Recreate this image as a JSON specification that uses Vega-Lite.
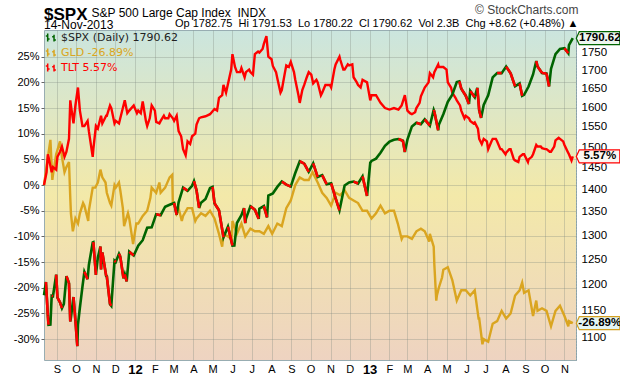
{
"$schema": "https://vega.github.io/schema/vega-lite/v6.json",
"width": 532, "height": 330,
"autosize": "none",
"padding": {"left": 44, "top": 30, "right": 44, "bottom": 16},
"background": "white",
"config": {
 "font": "Liberation Sans",
 "view": {"stroke": "#98adb2", "strokeWidth": 1, "fill": {"gradient": "linear", "x1": 0, "y1": 0, "x2": 0, "y2": 1, "stops": [{"offset": 0, "color": "#cbe5de"}, {"offset": 0.5, "color": "#f3e9a9"}, {"offset": 1, "color": "#eed3c1"}]}},
 "axis": {"labelFont": "Liberation Sans", "labelColor": "#000000", "gridColor": "#7f8a80", "gridOpacity": 0.32, "gridWidth": 1, "titleFont": "Liberation Sans", "titleColor": "#000000", "titleFontWeight": "normal"},
 "legend": {"orient": "top-left", "offset": 2, "padding": 0, "labelFont": "DejaVu Sans", "labelFontSize": 11, "rowPadding": 0, "labelOffset": 4, "symbolSize": 40, "symbolStrokeWidth": 1.5, "symbolType": "M-1.2,-1.3V1.3M-1.2,-0.5H-1.8M-1.2,0.5H-0.6M0.8,-0.9V1.3M0.8,-0.2H0.2M0.8,0.8H1.4", "labelLimit": 300}
},
"title": {"text": "$SPX", "subtitle": "14-Nov-2013", "anchor": "start", "frame": "group", "font": "Liberation Sans", "fontSize": 17, "fontWeight": "bold", "color": "#000000", "subtitleFont": "Liberation Sans", "subtitleFontSize": 12, "subtitleColor": "#000000", "offset": -1, "subtitlePadding": -4, "dy": 28},
"datasets": {
"spx": [
{"d":"2011-08-12","v":1178.8},{"d":"2011-08-15","v":1204.5},{"d":"2011-08-18","v":1140.6},{"d":"2011-08-19","v":1123.5},{"d":"2011-08-22","v":1123.8},{"d":"2011-08-24","v":1177.6},{"d":"2011-08-26","v":1176.8},{"d":"2011-08-31","v":1218.9},{"d":"2011-09-02","v":1174.0},{"d":"2011-09-06","v":1165.2},{"d":"2011-09-09","v":1154.2},{"d":"2011-09-12","v":1162.3},{"d":"2011-09-16","v":1216.0},{"d":"2011-09-20","v":1202.1},{"d":"2011-09-22","v":1129.6},{"d":"2011-09-23","v":1136.4},{"d":"2011-09-27","v":1175.4},{"d":"2011-09-30","v":1131.4},{"d":"2011-10-03","v":1085.0},{"d":"2011-10-04","v":1123.9},{"d":"2011-10-07","v":1155.5},{"d":"2011-10-11","v":1195.5},{"d":"2011-10-14","v":1224.6},{"d":"2011-10-19","v":1209.9},{"d":"2011-10-21","v":1238.3},{"d":"2011-10-27","v":1284.6},{"d":"2011-10-28","v":1285.1},{"d":"2011-11-01","v":1218.3},{"d":"2011-11-04","v":1253.2},{"d":"2011-11-08","v":1275.9},{"d":"2011-11-09","v":1229.1},{"d":"2011-11-11","v":1263.9},{"d":"2011-11-17","v":1216.1},{"d":"2011-11-18","v":1215.7},{"d":"2011-11-23","v":1161.8},{"d":"2011-11-25","v":1158.7},{"d":"2011-11-30","v":1246.9},{"d":"2011-12-02","v":1244.3},{"d":"2011-12-07","v":1261.0},{"d":"2011-12-09","v":1255.2},{"d":"2011-12-14","v":1211.8},{"d":"2011-12-16","v":1219.7},{"d":"2011-12-19","v":1205.4},{"d":"2011-12-23","v":1265.3},{"d":"2011-12-30","v":1257.6},
{"d":"2012-01-06","v":1277.8},{"d":"2012-01-13","v":1289.1},{"d":"2012-01-20","v":1315.4},{"d":"2012-01-27","v":1316.3},{"d":"2012-02-03","v":1344.9},{"d":"2012-02-10","v":1342.6},{"d":"2012-02-17","v":1361.2},{"d":"2012-02-24","v":1365.7},{"d":"2012-03-02","v":1369.6},{"d":"2012-03-06","v":1343.4},{"d":"2012-03-09","v":1370.9},{"d":"2012-03-16","v":1404.2},{"d":"2012-03-23","v":1397.1},{"d":"2012-03-30","v":1408.5},{"d":"2012-04-02","v":1419.0},{"d":"2012-04-06","v":1398.1},{"d":"2012-04-10","v":1358.6},{"d":"2012-04-13","v":1370.3},{"d":"2012-04-20","v":1378.5},{"d":"2012-04-27","v":1403.4},{"d":"2012-05-01","v":1405.8},{"d":"2012-05-04","v":1369.1},{"d":"2012-05-11","v":1353.4},{"d":"2012-05-18","v":1295.2},{"d":"2012-05-25","v":1317.8},{"d":"2012-06-01","v":1278.0},{"d":"2012-06-04","v":1278.2},{"d":"2012-06-08","v":1325.7},{"d":"2012-06-15","v":1342.8},{"d":"2012-06-19","v":1358.0},{"d":"2012-06-21","v":1325.5},{"d":"2012-06-22","v":1335.0},{"d":"2012-06-29","v":1362.2},{"d":"2012-07-06","v":1354.7},{"d":"2012-07-12","v":1334.8},{"d":"2012-07-13","v":1356.8},{"d":"2012-07-20","v":1362.7},{"d":"2012-07-25","v":1337.9},{"d":"2012-07-27","v":1386.0},{"d":"2012-08-03","v":1391.0},{"d":"2012-08-10","v":1405.9},{"d":"2012-08-17","v":1418.2},{"d":"2012-08-24","v":1411.1},{"d":"2012-08-31","v":1406.6},{"d":"2012-09-07","v":1437.9},{"d":"2012-09-14","v":1465.8},{"d":"2012-09-21","v":1460.2},{"d":"2012-09-28","v":1440.7},{"d":"2012-10-05","v":1460.9},{"d":"2012-10-12","v":1428.6},{"d":"2012-10-19","v":1433.2},{"d":"2012-10-26","v":1411.9},{"d":"2012-11-02","v":1414.2},{"d":"2012-11-09","v":1379.9},{"d":"2012-11-15","v":1353.3},{"d":"2012-11-16","v":1359.9},{"d":"2012-11-23","v":1409.2},{"d":"2012-11-30","v":1416.2},{"d":"2012-12-07","v":1418.1},{"d":"2012-12-14","v":1413.6},{"d":"2012-12-21","v":1430.2},{"d":"2012-12-28","v":1385.6},
{"d":"2013-01-02","v":1462.4},{"d":"2013-01-04","v":1466.5},{"d":"2013-01-11","v":1472.1},{"d":"2013-01-18","v":1486.0},{"d":"2013-01-25","v":1503.0},{"d":"2013-02-01","v":1513.2},{"d":"2013-02-08","v":1517.9},{"d":"2013-02-15","v":1519.8},{"d":"2013-02-22","v":1515.6},{"d":"2013-02-25","v":1487.9},{"d":"2013-03-01","v":1518.2},{"d":"2013-03-08","v":1551.2},{"d":"2013-03-15","v":1560.7},{"d":"2013-03-22","v":1556.9},{"d":"2013-03-28","v":1569.2},{"d":"2013-04-05","v":1553.3},{"d":"2013-04-11","v":1593.4},{"d":"2013-04-12","v":1588.9},{"d":"2013-04-18","v":1541.6},{"d":"2013-04-19","v":1555.3},{"d":"2013-04-26","v":1582.2},{"d":"2013-05-03","v":1614.4},{"d":"2013-05-10","v":1633.7},{"d":"2013-05-17","v":1667.5},{"d":"2013-05-21","v":1669.2},{"d":"2013-05-24","v":1649.6},{"d":"2013-05-31","v":1630.7},{"d":"2013-06-05","v":1608.9},{"d":"2013-06-07","v":1643.4},{"d":"2013-06-14","v":1626.7},{"d":"2013-06-18","v":1651.8},{"d":"2013-06-21","v":1592.4},{"d":"2013-06-24","v":1573.1},{"d":"2013-06-28","v":1606.3},{"d":"2013-07-05","v":1631.9},{"d":"2013-07-12","v":1680.2},{"d":"2013-07-19","v":1692.1},{"d":"2013-07-26","v":1691.7},{"d":"2013-08-02","v":1709.7},{"d":"2013-08-09","v":1691.4},{"d":"2013-08-16","v":1655.8},{"d":"2013-08-23","v":1663.5},{"d":"2013-08-27","v":1630.5},{"d":"2013-08-30","v":1633.0},{"d":"2013-09-06","v":1655.2},{"d":"2013-09-13","v":1688.0},{"d":"2013-09-18","v":1725.5},{"d":"2013-09-20","v":1709.9},{"d":"2013-09-27","v":1691.8},{"d":"2013-10-04","v":1690.5},{"d":"2013-10-08","v":1655.5},{"d":"2013-10-11","v":1703.2},{"d":"2013-10-18","v":1744.5},{"d":"2013-10-25","v":1759.8},{"d":"2013-11-01","v":1761.6},{"d":"2013-11-07","v":1747.2},{"d":"2013-11-08","v":1770.6},{"d":"2013-11-14","v":1790.62}
],
"gld": [
{"d":"2011-08-12","v":0.0},{"d":"2011-08-17","v":4.5},{"d":"2011-08-22","v":8.8},{"d":"2011-08-25","v":1.0},{"d":"2011-08-26","v":2.0},{"d":"2011-08-31","v":6.0},{"d":"2011-09-06","v":8.5},{"d":"2011-09-09","v":5.5},{"d":"2011-09-13","v":2.5},{"d":"2011-09-16","v":3.5},{"d":"2011-09-20","v":4.5},{"d":"2011-09-22","v":-2.5},{"d":"2011-09-23","v":-5.5},{"d":"2011-09-26","v":-9.0},{"d":"2011-09-30","v":-6.5},{"d":"2011-10-04","v":-7.5},{"d":"2011-10-07","v":-5.5},{"d":"2011-10-12","v":-3.5},{"d":"2011-10-14","v":-4.0},{"d":"2011-10-20","v":-7.0},{"d":"2011-10-21","v":-5.0},{"d":"2011-10-27","v":-0.5},{"d":"2011-10-31","v":-0.5},{"d":"2011-11-04","v":0.5},{"d":"2011-11-08","v":3.0},{"d":"2011-11-11","v":1.5},{"d":"2011-11-16","v":0.5},{"d":"2011-11-18","v":-1.5},{"d":"2011-11-23","v":-3.5},{"d":"2011-11-25","v":-4.0},{"d":"2011-11-30","v":0.0},{"d":"2011-12-02","v":-0.5},{"d":"2011-12-07","v":0.5},{"d":"2011-12-09","v":-1.0},{"d":"2011-12-13","v":-4.5},{"d":"2011-12-15","v":-8.0},{"d":"2011-12-16","v":-7.5},{"d":"2011-12-21","v":-5.5},{"d":"2011-12-23","v":-6.5},{"d":"2011-12-29","v":-11.5},
{"d":"2012-01-03","v":-7.5},{"d":"2012-01-06","v":-7.5},{"d":"2012-01-13","v":-6.0},{"d":"2012-01-20","v":-5.0},{"d":"2012-01-25","v":-2.5},{"d":"2012-01-27","v":-0.5},{"d":"2012-02-03","v":-1.5},{"d":"2012-02-08","v":0.5},{"d":"2012-02-10","v":-1.5},{"d":"2012-02-17","v":-0.5},{"d":"2012-02-24","v":1.5},{"d":"2012-02-28","v":2.0},{"d":"2012-02-29","v":-3.5},{"d":"2012-03-02","v":-3.5},{"d":"2012-03-06","v":-5.5},{"d":"2012-03-09","v":-4.5},{"d":"2012-03-14","v":-7.0},{"d":"2012-03-16","v":-6.0},{"d":"2012-03-23","v":-4.5},{"d":"2012-03-30","v":-4.5},{"d":"2012-04-04","v":-7.0},{"d":"2012-04-06","v":-6.5},{"d":"2012-04-13","v":-5.5},{"d":"2012-04-20","v":-6.0},{"d":"2012-04-27","v":-5.0},{"d":"2012-05-04","v":-6.5},{"d":"2012-05-11","v":-9.5},{"d":"2012-05-16","v":-12.0},{"d":"2012-05-18","v":-9.5},{"d":"2012-05-25","v":-10.0},{"d":"2012-05-31","v":-10.5},{"d":"2012-06-01","v":-7.0},{"d":"2012-06-08","v":-9.5},{"d":"2012-06-15","v":-7.5},{"d":"2012-06-21","v":-10.0},{"d":"2012-06-29","v":-8.5},{"d":"2012-07-06","v":-9.0},{"d":"2012-07-13","v":-9.0},{"d":"2012-07-20","v":-9.5},{"d":"2012-07-27","v":-8.0},{"d":"2012-08-02","v":-9.5},{"d":"2012-08-10","v":-7.5},{"d":"2012-08-17","v":-8.0},{"d":"2012-08-24","v":-4.5},{"d":"2012-08-31","v":-3.0},{"d":"2012-09-07","v":0.0},{"d":"2012-09-14","v":1.5},{"d":"2012-09-21","v":1.0},{"d":"2012-09-28","v":1.0},{"d":"2012-10-04","v":2.5},{"d":"2012-10-12","v":0.5},{"d":"2012-10-19","v":-1.5},{"d":"2012-10-26","v":-2.5},{"d":"2012-11-02","v":-4.0},{"d":"2012-11-09","v":-1.5},{"d":"2012-11-16","v":-2.0},{"d":"2012-11-23","v":-1.0},{"d":"2012-11-30","v":-2.5},{"d":"2012-12-07","v":-3.0},{"d":"2012-12-14","v":-3.5},{"d":"2012-12-21","v":-5.0},{"d":"2012-12-28","v":-5.0},
{"d":"2013-01-04","v":-6.5},{"d":"2013-01-11","v":-5.5},{"d":"2013-01-18","v":-4.0},{"d":"2013-01-25","v":-5.5},{"d":"2013-02-01","v":-5.0},{"d":"2013-02-08","v":-5.0},{"d":"2013-02-14","v":-7.5},{"d":"2013-02-20","v":-10.5},{"d":"2013-02-22","v":-10.0},{"d":"2013-03-01","v":-10.0},{"d":"2013-03-08","v":-10.5},{"d":"2013-03-15","v":-9.0},{"d":"2013-03-22","v":-8.5},{"d":"2013-03-28","v":-9.0},{"d":"2013-04-04","v":-11.0},{"d":"2013-04-05","v":-9.5},{"d":"2013-04-11","v":-12.0},{"d":"2013-04-12","v":-15.5},{"d":"2013-04-15","v":-22.5},{"d":"2013-04-16","v":-21.5},{"d":"2013-04-19","v":-20.0},{"d":"2013-04-24","v":-18.0},{"d":"2013-04-26","v":-16.5},{"d":"2013-05-03","v":-16.0},{"d":"2013-05-10","v":-18.5},{"d":"2013-05-17","v":-22.5},{"d":"2013-05-24","v":-20.5},{"d":"2013-05-31","v":-20.5},{"d":"2013-06-07","v":-21.5},{"d":"2013-06-14","v":-20.5},{"d":"2013-06-20","v":-26.0},{"d":"2013-06-21","v":-26.0},{"d":"2013-06-26","v":-31.0},{"d":"2013-06-28","v":-30.0},{"d":"2013-07-05","v":-30.5},{"d":"2013-07-12","v":-27.0},{"d":"2013-07-19","v":-26.5},{"d":"2013-07-26","v":-24.5},{"d":"2013-08-02","v":-26.0},{"d":"2013-08-09","v":-25.0},{"d":"2013-08-16","v":-21.5},{"d":"2013-08-23","v":-20.5},{"d":"2013-08-27","v":-19.0},{"d":"2013-08-30","v":-21.0},{"d":"2013-09-06","v":-20.5},{"d":"2013-09-13","v":-25.5},{"d":"2013-09-18","v":-22.5},{"d":"2013-09-20","v":-24.5},{"d":"2013-09-27","v":-24.0},{"d":"2013-10-04","v":-24.5},{"d":"2013-10-11","v":-27.5},{"d":"2013-10-18","v":-24.5},{"d":"2013-10-25","v":-23.5},{"d":"2013-11-01","v":-25.5},{"d":"2013-11-07","v":-27.5},{"d":"2013-11-08","v":-26.5},{"d":"2013-11-14","v":-26.89}
],
"tlt": [
{"d":"2011-08-12","v":0.0},{"d":"2011-08-16","v":2.5},{"d":"2011-08-18","v":6.0},{"d":"2011-08-19","v":5.5},{"d":"2011-08-24","v":2.5},{"d":"2011-08-26","v":3.5},{"d":"2011-08-31","v":3.0},{"d":"2011-09-02","v":5.5},{"d":"2011-09-06","v":6.5},{"d":"2011-09-09","v":7.5},{"d":"2011-09-13","v":5.5},{"d":"2011-09-16","v":6.5},{"d":"2011-09-20","v":9.0},{"d":"2011-09-22","v":16.5},{"d":"2011-09-23","v":15.5},{"d":"2011-09-27","v":12.0},{"d":"2011-09-30","v":15.5},{"d":"2011-10-04","v":19.0},{"d":"2011-10-07","v":14.5},{"d":"2011-10-11","v":11.5},{"d":"2011-10-14","v":11.5},{"d":"2011-10-19","v":12.5},{"d":"2011-10-21","v":10.5},{"d":"2011-10-27","v":5.5},{"d":"2011-10-28","v":7.0},{"d":"2011-11-01","v":11.5},{"d":"2011-11-04","v":11.0},{"d":"2011-11-09","v":13.5},{"d":"2011-11-11","v":12.0},{"d":"2011-11-17","v":13.5},{"d":"2011-11-18","v":13.5},{"d":"2011-11-23","v":15.5},{"d":"2011-11-25","v":15.0},{"d":"2011-11-30","v":12.0},{"d":"2011-12-02","v":12.5},{"d":"2011-12-07","v":12.0},{"d":"2011-12-09","v":13.0},{"d":"2011-12-14","v":15.5},{"d":"2011-12-16","v":16.5},{"d":"2011-12-20","v":14.0},{"d":"2011-12-23","v":14.5},{"d":"2011-12-30","v":15.5},
{"d":"2012-01-04","v":14.0},{"d":"2012-01-06","v":14.5},{"d":"2012-01-10","v":14.0},{"d":"2012-01-13","v":16.3},{"d":"2012-01-18","v":12.5},{"d":"2012-01-20","v":11.5},{"d":"2012-01-24","v":13.0},{"d":"2012-01-27","v":15.5},{"d":"2012-02-01","v":14.5},{"d":"2012-02-03","v":12.3},{"d":"2012-02-08","v":12.0},{"d":"2012-02-10","v":12.5},{"d":"2012-02-15","v":13.5},{"d":"2012-02-17","v":13.0},{"d":"2012-02-22","v":13.0},{"d":"2012-02-24","v":13.8},{"d":"2012-02-29","v":13.0},{"d":"2012-03-02","v":12.5},{"d":"2012-03-06","v":13.5},{"d":"2012-03-09","v":10.5},{"d":"2012-03-13","v":9.5},{"d":"2012-03-16","v":7.0},{"d":"2012-03-20","v":5.8},{"d":"2012-03-23","v":8.5},{"d":"2012-03-27","v":8.0},{"d":"2012-03-30","v":9.5},{"d":"2012-04-04","v":10.0},{"d":"2012-04-06","v":11.8},{"d":"2012-04-10","v":13.0},{"d":"2012-04-13","v":13.2},{"d":"2012-04-20","v":13.4},{"d":"2012-04-27","v":13.8},{"d":"2012-05-04","v":14.8},{"d":"2012-05-08","v":14.5},{"d":"2012-05-11","v":17.0},{"d":"2012-05-16","v":17.5},{"d":"2012-05-18","v":19.5},{"d":"2012-05-22","v":18.0},{"d":"2012-05-25","v":19.7},{"d":"2012-05-30","v":22.5},{"d":"2012-06-01","v":25.5},{"d":"2012-06-05","v":23.0},{"d":"2012-06-08","v":22.0},{"d":"2012-06-13","v":22.0},{"d":"2012-06-15","v":22.8},{"d":"2012-06-20","v":21.0},{"d":"2012-06-22","v":22.0},{"d":"2012-06-27","v":22.5},{"d":"2012-06-29","v":22.0},{"d":"2012-07-03","v":21.5},{"d":"2012-07-06","v":25.5},{"d":"2012-07-11","v":26.0},{"d":"2012-07-13","v":25.8},{"d":"2012-07-18","v":26.5},{"d":"2012-07-20","v":27.5},{"d":"2012-07-24","v":29.0},{"d":"2012-07-27","v":25.0},{"d":"2012-08-01","v":24.5},{"d":"2012-08-03","v":23.2},{"d":"2012-08-08","v":22.0},{"d":"2012-08-10","v":20.8},{"d":"2012-08-15","v":18.0},{"d":"2012-08-17","v":18.5},{"d":"2012-08-22","v":22.0},{"d":"2012-08-24","v":23.3},{"d":"2012-08-28","v":23.0},{"d":"2012-08-31","v":24.0},{"d":"2012-09-05","v":22.0},{"d":"2012-09-07","v":20.5},{"d":"2012-09-12","v":17.5},{"d":"2012-09-14","v":16.0},{"d":"2012-09-18","v":18.5},{"d":"2012-09-21","v":19.5},{"d":"2012-09-25","v":21.0},{"d":"2012-09-28","v":22.0},{"d":"2012-10-02","v":21.5},{"d":"2012-10-05","v":19.8},{"d":"2012-10-10","v":20.5},{"d":"2012-10-12","v":20.0},{"d":"2012-10-17","v":17.5},{"d":"2012-10-19","v":18.0},{"d":"2012-10-24","v":19.5},{"d":"2012-10-26","v":19.5},{"d":"2012-10-31","v":19.5},{"d":"2012-11-02","v":19.0},{"d":"2012-11-07","v":22.5},{"d":"2012-11-09","v":23.5},{"d":"2012-11-15","v":25.0},{"d":"2012-11-16","v":24.5},{"d":"2012-11-21","v":22.5},{"d":"2012-11-23","v":22.5},{"d":"2012-11-28","v":23.5},{"d":"2012-11-30","v":23.3},{"d":"2012-12-05","v":23.5},{"d":"2012-12-07","v":21.0},{"d":"2012-12-12","v":20.0},{"d":"2012-12-14","v":19.5},{"d":"2012-12-18","v":19.0},{"d":"2012-12-21","v":20.5},{"d":"2012-12-28","v":20.0},
{"d":"2013-01-02","v":16.5},{"d":"2013-01-04","v":17.5},{"d":"2013-01-11","v":17.5},{"d":"2013-01-18","v":16.0},{"d":"2013-01-25","v":15.0},{"d":"2013-02-01","v":14.7},{"d":"2013-02-08","v":15.0},{"d":"2013-02-15","v":14.7},{"d":"2013-02-20","v":15.5},{"d":"2013-02-25","v":17.5},{"d":"2013-03-01","v":14.5},{"d":"2013-03-05","v":14.0},{"d":"2013-03-08","v":13.8},{"d":"2013-03-13","v":14.2},{"d":"2013-03-15","v":15.0},{"d":"2013-03-20","v":16.0},{"d":"2013-03-22","v":17.3},{"d":"2013-03-28","v":19.0},{"d":"2013-04-03","v":20.0},{"d":"2013-04-05","v":21.8},{"d":"2013-04-10","v":21.0},{"d":"2013-04-12","v":22.0},{"d":"2013-04-18","v":23.5},{"d":"2013-04-19","v":23.0},{"d":"2013-04-26","v":23.0},{"d":"2013-05-01","v":22.5},{"d":"2013-05-03","v":20.0},{"d":"2013-05-08","v":19.0},{"d":"2013-05-10","v":18.0},{"d":"2013-05-15","v":17.0},{"d":"2013-05-17","v":16.5},{"d":"2013-05-22","v":15.5},{"d":"2013-05-24","v":14.5},{"d":"2013-05-29","v":13.0},{"d":"2013-05-31","v":13.5},{"d":"2013-06-05","v":13.0},{"d":"2013-06-07","v":12.5},{"d":"2013-06-12","v":12.0},{"d":"2013-06-14","v":12.2},{"d":"2013-06-19","v":11.0},{"d":"2013-06-21","v":9.0},{"d":"2013-06-25","v":8.0},{"d":"2013-06-28","v":9.0},{"d":"2013-07-03","v":8.5},{"d":"2013-07-05","v":7.0},{"d":"2013-07-10","v":8.5},{"d":"2013-07-12","v":9.0},{"d":"2013-07-17","v":9.0},{"d":"2013-07-19","v":8.5},{"d":"2013-07-24","v":7.0},{"d":"2013-07-26","v":7.0},{"d":"2013-08-01","v":6.0},{"d":"2013-08-02","v":6.3},{"d":"2013-08-07","v":7.0},{"d":"2013-08-09","v":7.0},{"d":"2013-08-14","v":5.0},{"d":"2013-08-16","v":4.8},{"d":"2013-08-21","v":4.5},{"d":"2013-08-23","v":5.5},{"d":"2013-08-28","v":6.0},{"d":"2013-08-30","v":6.0},{"d":"2013-09-05","v":4.5},{"d":"2013-09-06","v":5.0},{"d":"2013-09-11","v":5.5},{"d":"2013-09-13","v":6.0},{"d":"2013-09-18","v":7.8},{"d":"2013-09-20","v":7.5},{"d":"2013-09-25","v":7.5},{"d":"2013-09-27","v":7.2},{"d":"2013-10-02","v":7.0},{"d":"2013-10-04","v":7.0},{"d":"2013-10-09","v":6.5},{"d":"2013-10-11","v":6.5},{"d":"2013-10-16","v":7.5},{"d":"2013-10-18","v":8.7},{"d":"2013-10-23","v":9.2},{"d":"2013-10-25","v":9.0},{"d":"2013-10-30","v":8.5},{"d":"2013-11-01","v":7.8},{"d":"2013-11-06","v":6.5},{"d":"2013-11-08","v":6.0},{"d":"2013-11-12","v":4.8},{"d":"2013-11-14","v":5.57}
]
},
"layer": [
 {
  "layer": [
   {
    "data": {"name": "gld"},
    "mark": {"type": "line", "strokeWidth": 2.4, "strokeJoin": "miter"},
    "encoding": {
     "x": {"field": "d", "type": "temporal",
       "scale": {"type": "utc", "domain": [{"year": 2011, "month": 8, "date": 12, "utc": true}, {"year": 2013, "month": 11, "date": 19, "utc": true}]},
       "axis": {"tickCount": {"interval": "month", "step": 1}, "grid": true, "ticks": false, "domain": false, "labelPadding": 3, "labelOverlap": false, "labelFlush": false,
         "labelExpr": "utcFormat(datum.value, '%m') == '01' ? utcFormat(datum.value, '%y') : substring(utcFormat(datum.value, '%b'), 0, 1)",
         "labelFontWeight": {"condition": {"test": "utcFormat(datum.value, '%m') == '01'", "value": "bold"}, "value": "normal"},
         "labelFontSize": {"condition": {"test": "utcFormat(datum.value, '%m') == '01'", "value": 13}, "value": 11},
         "title": "Op\u00a01782.75\u00a0\u00a0Hi\u00a01791.53\u00a0\u00a0Lo\u00a01780.22\u00a0\u00a0Cl\u00a01790.62\u00a0\u00a0Vol\u00a02.3B\u00a0\u00a0Chg\u00a0+8.62\u00a0(+0.48%)\u00a0\u25b2",
         "titleX": 534, "titleY": -334, "titleAlign": "right", "titleAnchor": "end", "titleBaseline": "alphabetic", "titleFontSize": 11, "titleFontWeight": "normal"}},
     "y": {"field": "v", "type": "quantitative",
       "scale": {"domain": [-34.07, 30.2], "nice": false, "zero": false},
       "axis": {"values": [-30, -25, -20, -15, -10, -5, 0, 5, 10, 15, 20, 25], "tickCount": 13, "labelOverlap": false, "labelExpr": "datum.value >= 29 ? '' : datum.value + '%'", "grid": true, "ticks": true, "tickSize": 3, "tickColor": "#666666", "domain": false, "labelPadding": 2, "labelFontSize": 11,
         "title": "\u00a9 StockCharts.com", "titleAngle": 0, "titleX": 534, "titleY": -17, "titleAlign": "right", "titleAnchor": "end", "titleBaseline": "alphabetic", "titleFontSize": 12, "titleColor": "#444444"}},
     "color": {"datum": "GLD  -26.89%", "scale": {"domain": ["$SPX (Daily) 1790.62", "GLD  -26.89%", "TLT  5.57%"], "range": ["#006400", "#daa520", "#ff0000"]},
       "legend": {"title": null, "encode": {"labels": {"update": {"fill": {"signal": "datum.label == 'GLD  -26.89%' ? '#daa520' : datum.label == 'TLT  5.57%' ? '#ff0000' : '#222222'"}}}}}}
    }
   },
   {
    "data": {"name": "tlt"},
    "mark": {"type": "line", "strokeWidth": 2.4, "strokeJoin": "miter"},
    "encoding": {
     "x": {"field": "d", "type": "temporal"},
     "y": {"field": "v", "type": "quantitative"},
     "color": {"datum": "TLT  5.57%"}
    }
   },
   {
    "data": {"name": "gld"},
    "transform": [{"window": [{"op": "row_number", "as": "rn"}], "sort": [{"field": "d", "order": "descending"}]}, {"filter": "datum.rn == 1"}],
    "mark": {"type": "point", "shape": "M3.5,0L6.5,-6.5H47V6.5H6.5Z", "size": 4, "filled": true, "fill": "#e3f5f5", "stroke": "#d4a020", "strokeWidth": 1.2, "opacity": 1},
    "encoding": {"x": {"field": "d", "type": "temporal"}, "y": {"field": "v", "type": "quantitative"}}
   },
   {
    "data": {"name": "gld"},
    "transform": [{"window": [{"op": "row_number", "as": "rn"}], "sort": [{"field": "d", "order": "descending"}]}, {"filter": "datum.rn == 1"}],
    "mark": {"type": "text", "dx": 27, "align": "center", "baseline": "middle", "fontWeight": "bold", "fontSize": 11.5, "font": "Liberation Sans", "color": "#000000", "text": "-26.89%"},
    "encoding": {"x": {"field": "d", "type": "temporal"}, "y": {"field": "v", "type": "quantitative"}}
   },
   {
    "data": {"name": "tlt"},
    "transform": [{"window": [{"op": "row_number", "as": "rn"}], "sort": [{"field": "d", "order": "descending"}]}, {"filter": "datum.rn == 1"}],
    "mark": {"type": "point", "shape": "M3.5,0L6.5,-6.5H47V6.5H6.5Z", "size": 4, "filled": true, "fill": "#fbf6f2", "stroke": "#ff0000", "strokeWidth": 1.2, "opacity": 1},
    "encoding": {"x": {"field": "d", "type": "temporal"}, "y": {"field": "v", "type": "quantitative"}}
   },
   {
    "data": {"name": "tlt"},
    "transform": [{"window": [{"op": "row_number", "as": "rn"}], "sort": [{"field": "d", "order": "descending"}]}, {"filter": "datum.rn == 1"}],
    "mark": {"type": "text", "dx": 27, "align": "center", "baseline": "middle", "fontWeight": "bold", "fontSize": 11.5, "font": "Liberation Sans", "color": "#000000", "text": "5.57%"},
    "encoding": {"x": {"field": "d", "type": "temporal"}, "y": {"field": "v", "type": "quantitative"}}
   }
  ]
 },
 {
  "layer": [
   {
    "data": {"name": "spx"},
    "mark": {"type": "line", "strokeWidth": 2.6, "strokeJoin": "miter"},
    "encoding": {
     "x": {"field": "d", "type": "temporal"},
     "y": {"field": "v", "type": "quantitative",
       "scale": {"type": "log", "domain": [1060.9, 1814.6], "nice": false, "zero": false},
       "axis": {"orient": "right", "values": [1100, 1150, 1200, 1250, 1300, 1350, 1400, 1450, 1500, 1550, 1600, 1650, 1700, 1750], "format": "d", "grid": false, "ticks": false, "domain": true, "domainDash": [1, 2], "domainColor": "#7d97a3", "domainWidth": 1, "labelPadding": 5, "labelFontSize": 11.5,
         "title": "S&P 500 Large Cap Index\u00a0\u00a0INDX", "titleAngle": 0, "titleX": -485, "titleY": -14, "titleAlign": "left", "titleAnchor": "start", "titleBaseline": "alphabetic", "titleFontSize": 12}},
     "color": {"datum": "$SPX (Daily) 1790.62"}
    }
   },
   {
    "data": {"name": "spx", "format": {"parse": {"d": "date"}}},
    "transform": [{"window": [{"op": "lag", "field": "v", "as": "pv"}, {"op": "lag", "field": "d", "as": "pd"}], "sort": [{"field": "d"}]}, {"filter": "datum.pv != null && datum.v < datum.pv"}],
    "mark": {"type": "rule", "strokeWidth": 2.6, "color": "#ff0000"},
    "encoding": {
     "x": {"field": "d", "type": "temporal"},
     "x2": {"field": "pd"},
     "y": {"field": "v", "type": "quantitative"},
     "y2": {"field": "pv"}
    }
   },
   {
    "data": {"name": "spx"},
    "transform": [{"window": [{"op": "row_number", "as": "rn"}], "sort": [{"field": "d", "order": "descending"}]}, {"filter": "datum.rn == 1"}],
    "mark": {"type": "point", "shape": "M3.5,0L6.5,-6.5H47V6.5H6.5Z", "size": 4, "filled": true, "fill": "#edf6ef", "stroke": "#006400", "strokeWidth": 1.2, "opacity": 1},
    "encoding": {"x": {"field": "d", "type": "temporal"}, "y": {"field": "v", "type": "quantitative"}}
   },
   {
    "data": {"name": "spx"},
    "transform": [{"window": [{"op": "row_number", "as": "rn"}], "sort": [{"field": "d", "order": "descending"}]}, {"filter": "datum.rn == 1"}],
    "mark": {"type": "text", "dx": 27, "align": "center", "baseline": "middle", "fontWeight": "bold", "fontSize": 11.5, "font": "Liberation Sans", "color": "#000000"},
    "encoding": {"x": {"field": "d", "type": "temporal"}, "y": {"field": "v", "type": "quantitative"}, "text": {"field": "v", "type": "quantitative", "format": ".2f"}}
   }
  ]
 }
],
"resolve": {"scale": {"y": "independent"}, "axis": {"y": "independent"}}
}
